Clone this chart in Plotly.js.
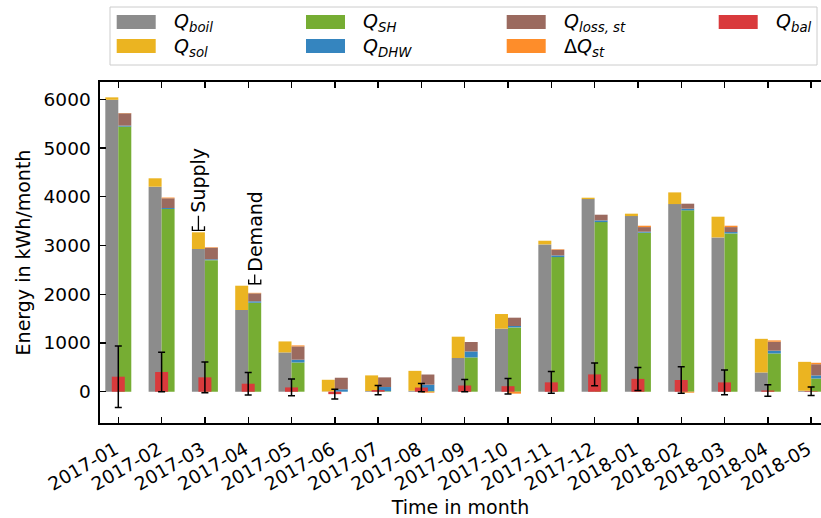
<!DOCTYPE html>
<html>
<head>
<meta charset="utf-8">
<script src="https://cdn.plot.ly/plotly-3.0.1.min.js"></script>
<style>html,body{margin:0;padding:0;background:#fff}#chart{width:821px;height:518px}</style>
</head>
<body>
<div id="chart"></div>
<script>
// ---- data (kWh/month) ----
const months = ['2017-01','2017-02','2017-03','2017-04','2017-05','2017-06','2017-07','2017-08','2017-09','2017-10','2017-11','2017-12','2018-01','2018-02','2018-03','2018-04','2018-05'];
const Qboil = [5990, 4207, 2928, 1677, 806, 5, 15, 20, 692, 1293, 3023, 3953, 3604, 3850, 3166, 395, 20];
const Qsol  = [50, 172, 343, 498, 226, 240, 320, 408, 437, 301, 75, 28, 49, 240, 425, 690, 593];
const QSH   = [5440, 3750, 2700, 1826, 600, 0, 10, 15, 704, 1320, 2762, 3480, 3263, 3721, 3248, 785, 272];
const QDHW  = [20, 20, 17, 29, 57, 50, 86, 130, 123, 28, 35, 35, 20, 34, 28, 57, 62];
const Qloss = [253, 199, 238, 164, 273, 237, 198, 208, 193, 171, 117, 117, 95, 103, 102, 184, 230];
const dQst  = [5, 15, 10, 10, 20, 0, 0, -20, 0, -40, 10, 0, 28, -20, 28, 27, 30];
const Qbal  = [308, 404, 295, 164, 88, -50, 34, 85, 127, 113, 192, 355, 263, 240, 191, 25, 10];
const QbalErr = [630, 404, 314, 232, 171, 100, 96, 85, 126, 160, 225, 235, 236, 273, 253, 118, 86];

const seriesNames = {
  boil: '<i>Q</i><sub><i>boil</i></sub>',
  sol:  '<i>Q</i><sub><i>sol</i></sub>',
  SH:   '<i>Q</i><sub><i>SH</i></sub>',
  DHW:  '<i>Q</i><sub><i>DHW</i></sub>',
  loss: '<i>Q</i><sub><i>loss, st</i></sub>',
  dQst: 'Δ<i>Q</i><sub><i>st</i></sub>',
  bal:  '<i>Q</i><sub><i>bal</i></sub>'
};
const colors = {
  boil: '#8c8c8c', sol: '#ebb421', SH: '#76ad33', DHW: '#3585bf',
  loss: '#9b6a5f', dQst: '#fe8d2a', bal: '#d93a3c'
};

// ---- layout constants ----
const FONT = 'DejaVu Sans';
const W = 821, H = 518;
const M = {l: 100, r: 0, t: 82, b: 95};
const BW = 0.3;            // bar width (data units)
const idx = months.map((_, i) => i);
const xS = idx.map(i => i - BW / 2);
const xD = idx.map(i => i + BW / 2);

function bar(key, x, y, extra) {
  return Object.assign({
    type: 'bar', x: x, y: y, width: BW, name: seriesNames[key],
    marker: {color: colors[key], line: {width: 0}},
    showlegend: false, hoverinfo: 'skip'
  }, extra || {});
}

const data = [
  bar('boil', xS, Qboil),
  bar('sol', xS, Qsol),
  bar('SH', xD, QSH),
  bar('DHW', xD, QDHW),
  bar('loss', xD, Qloss),
  bar('dQst', xD, dQst),
  bar('bal', idx, Qbal, {
    error_y: {type: 'data', array: QbalErr, visible: true, color: '#000', thickness: 1.5, width: 3.5}
  })
];

// ---- supply / demand brackets ----
const supplyTot = idx.map(i => Qboil[i] + Qsol[i]);
const demandTot = idx.map(i => QSH[i] + QDHW[i] + Qloss[i] + Math.max(dQst[i], 0));
const brackets = [
  {i: 2, side: -1, label: 'Supply', stem: 300},
  {i: 3, side: 1, label: 'Demand', stem: 190}
];
const shapes = [];
const annotations = [];
brackets.forEach(b => {
  const xc = b.i + b.side * BW / 2;
  const hw = 0.14;
  const yB = Math.max(supplyTot[b.i], demandTot[b.i]) + 40;
  const yA = yB + 85;
  const yS = yB + b.stem;
  shapes.push({
    type: 'path', xref: 'x', yref: 'y',
    path: `M ${xc - hw},${yA} L ${xc - hw},${yB} L ${xc + hw},${yB} L ${xc + hw},${yA} M ${xc},${yB} L ${xc},${yS}`,
    line: {color: '#000', width: 1.3}
  });
  annotations.push({
    xref: 'x', yref: 'y', x: xc, y: yS, text: b.label, showarrow: false,
    textangle: -90, xanchor: 'center', yanchor: 'bottom', yshift: 1,
    font: {family: FONT, size: 19, color: '#000'}
  });
});

// ---- custom legend (matplotlib style, column-major) ----
const PW = W - M.l - M.r, PH = H - M.t - M.b;
const px = v => (v - M.l) / PW;
const py = v => (H - M.b - v) / PH;
const legendCols = [['boil', 'sol'], ['SH', 'DHW'], ['loss', 'dQst'], ['bal']];
const colX = [116.7, 306, 506.7, 718.7];
const rowY = [22, 46];
shapes.push({
  type: 'rect', xref: 'paper', yref: 'paper',
  x0: px(110), x1: px(817), y0: py(65), y1: py(7),
  line: {color: '#cccccc', width: 1}, fillcolor: 'rgba(255,255,255,0.8)', layer: 'above'
});
legendCols.forEach((col, c) => {
  col.forEach((key, r) => {
    shapes.push({
      type: 'rect', xref: 'paper', yref: 'paper',
      x0: px(colX[c]), x1: px(colX[c] + 39), y0: py(rowY[r] + 7), y1: py(rowY[r] - 7),
      line: {width: 0}, fillcolor: colors[key], layer: 'above'
    });
    annotations.push({
      xref: 'paper', yref: 'paper', x: px(colX[c] + 55), y: py(rowY[r] + 1),
      text: seriesNames[key], showarrow: false, xanchor: 'left', yanchor: 'middle',
      font: {family: FONT, size: 19, color: '#000'}
    });
  });
});

const axisCommon = {
  showgrid: false, zeroline: false, showline: true, linecolor: '#000', linewidth: 1.6,
  ticks: 'inside', ticklen: 6, tickwidth: 1.4, tickcolor: '#000',
  tickfont: {family: FONT, size: 18.5, color: '#000'}
};

const layout = {
  width: W, height: H, margin: M,
  paper_bgcolor: '#fff', plot_bgcolor: '#fff',
  barmode: 'relative',
  showlegend: false,
  font: {family: FONT, size: 19, color: '#000'},
  xaxis: Object.assign({}, axisCommon, {
    type: 'linear', range: [-0.4226, 16.228], mirror: 'ticks',
    tickmode: 'array', tickvals: idx, ticktext: months, tickangle: -30,
    ticklabelstandoff: 7, ticklabelshift: -3,
    title: {text: 'Time in month', font: {family: FONT, size: 19, color: '#000'}, standoff: 8},
    automargin: false
  }),
  yaxis: Object.assign({}, axisCommon, {
    range: [-642, 6355], mirror: false,
    tickmode: 'array', tickvals: [0, 1000, 2000, 3000, 4000, 5000, 6000],
    ticklabelstandoff: 4,
    title: {text: 'Energy in kWh/month', font: {family: FONT, size: 19, color: '#000'}, standoff: 8},
    automargin: false
  }),
  shapes: shapes,
  annotations: annotations
};

Plotly.newPlot('chart', data, layout, {staticPlot: true, displayModeBar: false});
</script>
</body>
</html>
